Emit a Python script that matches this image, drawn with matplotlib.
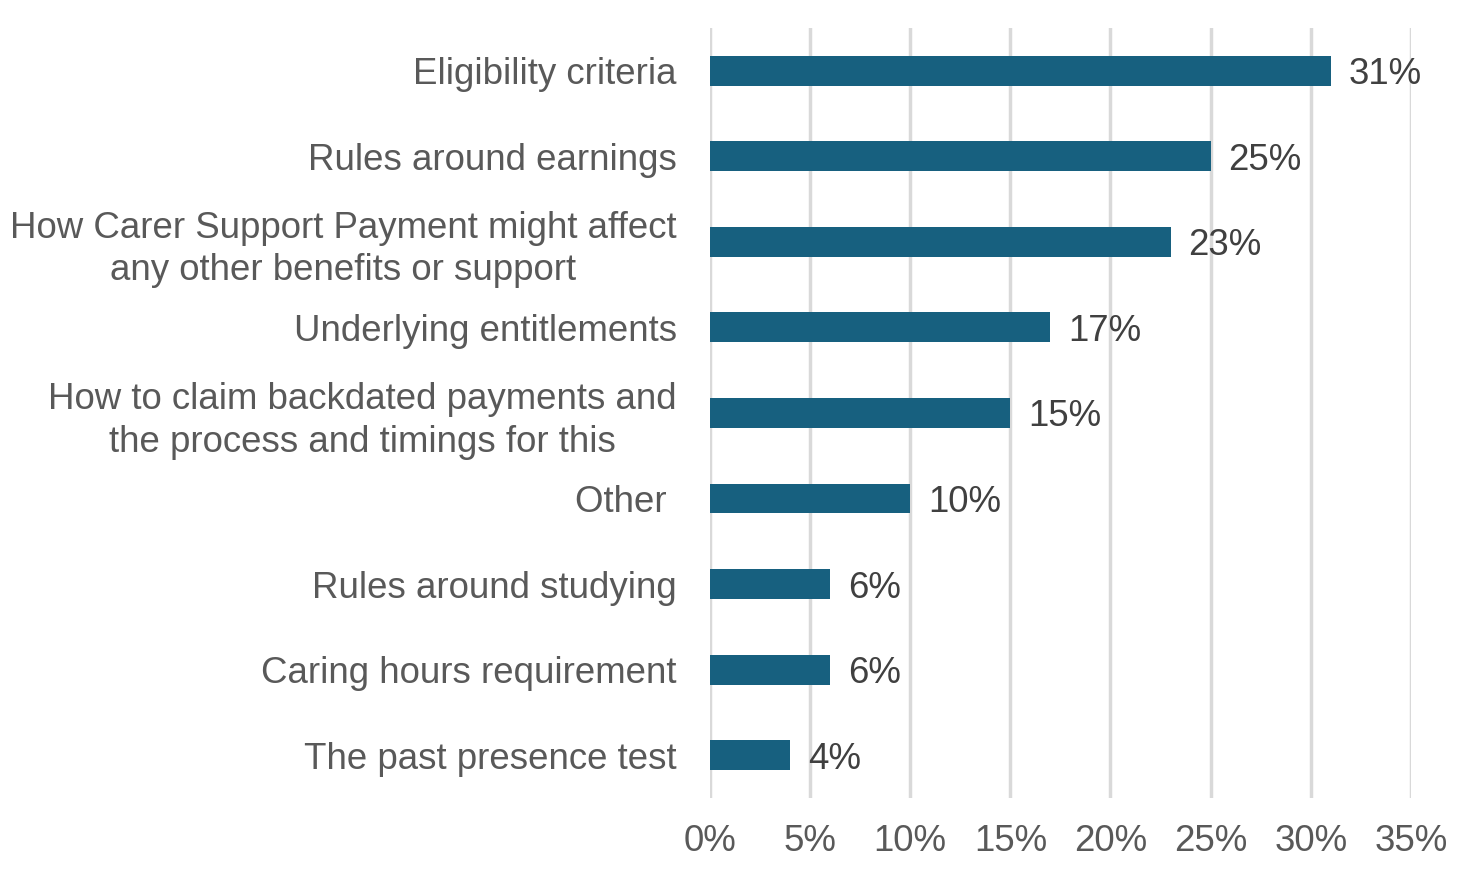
import matplotlib.pyplot as plt
from matplotlib.ticker import FuncFormatter

# Data (top to bottom as shown)
categories = [
    'Eligibility criteria',
    'Rules around earnings',
    'How Carer Support Payment might affect\nany other benefits or support',
    'Underlying entitlements',
    'How to claim backdated payments and\nthe process and timings for this',
    'Other ',
    'Rules around studying',
    'Caring hours requirement',
    'The past presence test',
]
values = [31, 25, 23, 17, 15, 10, 6, 6, 4]
xticks = [0, 5, 10, 15, 20, 25, 30, 35]

bar_color = '#17607f'
label_color = '#595959'
value_color = '#404040'

plt.rcParams['font.family'] = ['Liberation Sans', 'DejaVu Sans']

fig = plt.figure(figsize=(14.6, 8.74), dpi=100)
ax = fig.add_axes([0.4863, 0.0870, 0.48, 0.881])

pos = list(range(len(categories)))
ax.barh(pos, values, height=0.35, color=bar_color, zorder=3)

for p, v in zip(pos, values):
    ax.text(v + 0.9, p, f'{v}%', va='center_baseline', ha='left',
            fontsize=26.4, color=value_color, zorder=4)

ax.set_xlim(0, 35)
ax.set_ylim(len(categories) - 0.5, -0.5)
ax.set_xticks(xticks)
ax.xaxis.set_major_formatter(FuncFormatter(lambda x, _: f'{x:.0f}%'))
ax.set_yticks(pos)
ax.set_yticklabels(categories, multialignment='center', linespacing=1.28)

ax.tick_params(axis='x', length=0, pad=19, labelsize=26.4, labelcolor=label_color)
ax.tick_params(axis='y', length=0, pad=24, labelsize=26.4, labelcolor=label_color)

ax.grid(axis='x', color='#d9d9d9', linewidth=2.5, zorder=0)
ax.set_axisbelow(True)
for s in ax.spines.values():
    s.set_visible(False)

fig.savefig('out.png', dpi=100)
